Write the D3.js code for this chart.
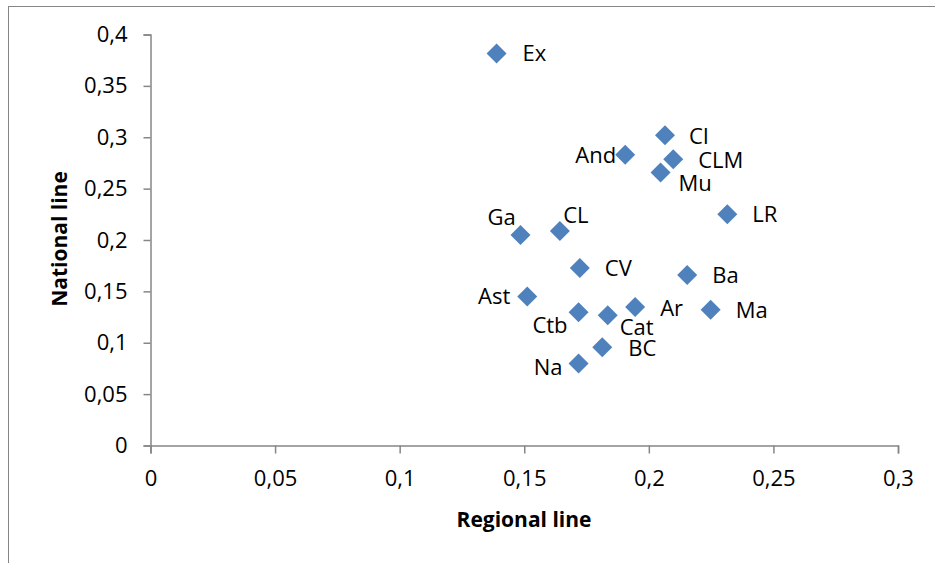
<!DOCTYPE html>
<html>
<head>
<meta charset="utf-8">
<script src="https://cdn.jsdelivr.net/npm/d3@7"></script>
<style>
  body { margin: 0; background: #fff; }
  svg { display: block; font-family: "Open Sans", sans-serif; }
</style>
</head>
<body>
<svg id="chart" width="935" height="563"></svg>
<script>
// regions and their coefficients
const regions = ['Ex', 'CI', 'And', 'CLM', 'Mu', 'LR', 'Ga', 'CL', 'CV', 'Ba', 'Ast', 'Ctb', 'Cat', 'Ar', 'Ma', 'BC', 'Na'];
const regionalLine = [0.1389, 0.2065, 0.1905, 0.2098, 0.2047, 0.2315, 0.1485, 0.1643, 0.1723, 0.2154, 0.1512, 0.1718, 0.1835, 0.1945, 0.2248, 0.1813, 0.1718];
const nationalLine = [0.3815, 0.3020, 0.2829, 0.2785, 0.2658, 0.2250, 0.2049, 0.2088, 0.1728, 0.1660, 0.1449, 0.1297, 0.1268, 0.1349, 0.1322, 0.0957, 0.0797];
const xTicks = [0, 0.05, 0.1, 0.15, 0.2, 0.25, 0.3];
const yTicks = [0, 0.05, 0.1, 0.15, 0.2, 0.25, 0.3, 0.35, 0.4];

// where each label sits relative to its marker
const labelOffset = {
  Ex: [26, 0, 'start'], CI: [24, 1, 'start'], And: [-9, 0, 'end'], CLM: [25, 1, 'start'],
  Mu: [18, 11, 'start'], LR: [25, 0, 'start'], Ga: [-19, -18, 'middle'], CL: [16, -16, 'middle'],
  CV: [25, 0, 'start'], Ba: [25, 0, 'start'], Ast: [-17, 0, 'end'], Ctb: [-11, 13, 'end'],
  Cat: [12, 12, 'start'], Ar: [25, 1, 'start'], Ma: [25, 1, 'start'], BC: [26, 1, 'start'],
  Na: [-16, 4, 'end']
};

const svg = d3.select('#chart');
const fmt = d => String(d).replace('.', ',');
const axisColor = '#868686';

// outer frame
svg.append('rect')
  .attr('x', 8.5).attr('y', 6.5)
  .attr('width', 1000).attr('height', 1000)
  .attr('fill', 'none').attr('stroke', axisColor).attr('stroke-width', 1);

const xScale = d3.scaleLinear().domain([0, 0.3]).range([150.5, 898]);
const yScale = d3.scaleLinear().domain([0, 0.4]).range([445.5, 34.5]);

const xAxis = svg.append('g')
  .attr('transform', `translate(0,${yScale(0)})`)
  .call(d3.axisBottom(xScale).tickValues(xTicks).tickFormat(fmt).tickSize(8).tickPadding(17));

const yAxis = svg.append('g')
  .attr('transform', `translate(${xScale(0)},0)`)
  .call(d3.axisLeft(yScale).tickValues(yTicks).tickFormat(fmt).tickSize(7).tickPadding(16));

[xAxis, yAxis].forEach(ax => {
  ax.select('.domain').attr('stroke', axisColor).attr('stroke-width', 1.5);
  ax.selectAll('.tick line').attr('stroke', axisColor).attr('stroke-width', 1.5);
  ax.selectAll('.tick text')
    .attr('fill', '#000')
    .style('font-family', '"Open Sans", sans-serif')
    .style('font-size', '22px');
});

// axis titles
svg.append('text')
  .attr('x', 524).attr('y', 527)
  .attr('text-anchor', 'middle')
  .style('font-size', '21px').style('font-weight', 'bold')
  .text('Regional line');

svg.append('text')
  .attr('transform', 'translate(67,239) rotate(-90)')
  .attr('text-anchor', 'middle')
  .style('font-size', '21px').style('font-weight', 'bold')
  .text('National line');

const points = regions.map((name, i) => ({ name, x: regionalLine[i], y: nationalLine[i] }));

const diamond = d3.symbol().type(d3.symbolSquare).size(200);

svg.selectAll('.marker')
  .data(points)
  .enter().append('path')
  .attr('class', 'marker')
  .attr('d', diamond)
  .attr('transform', d => `translate(${xScale(d.x)},${yScale(d.y)}) rotate(45)`)
  .attr('fill', '#4F81BD');

svg.selectAll('.label')
  .data(points)
  .enter().append('text')
  .attr('class', 'label')
  .attr('x', d => xScale(d.x) + labelOffset[d.name][0])
  .attr('y', d => yScale(d.y) + labelOffset[d.name][1])
  .attr('dy', '0.35em')
  .attr('text-anchor', d => labelOffset[d.name][2])
  .style('font-size', '22px')
  .text(d => d.name);
</script>
</body>
</html>
